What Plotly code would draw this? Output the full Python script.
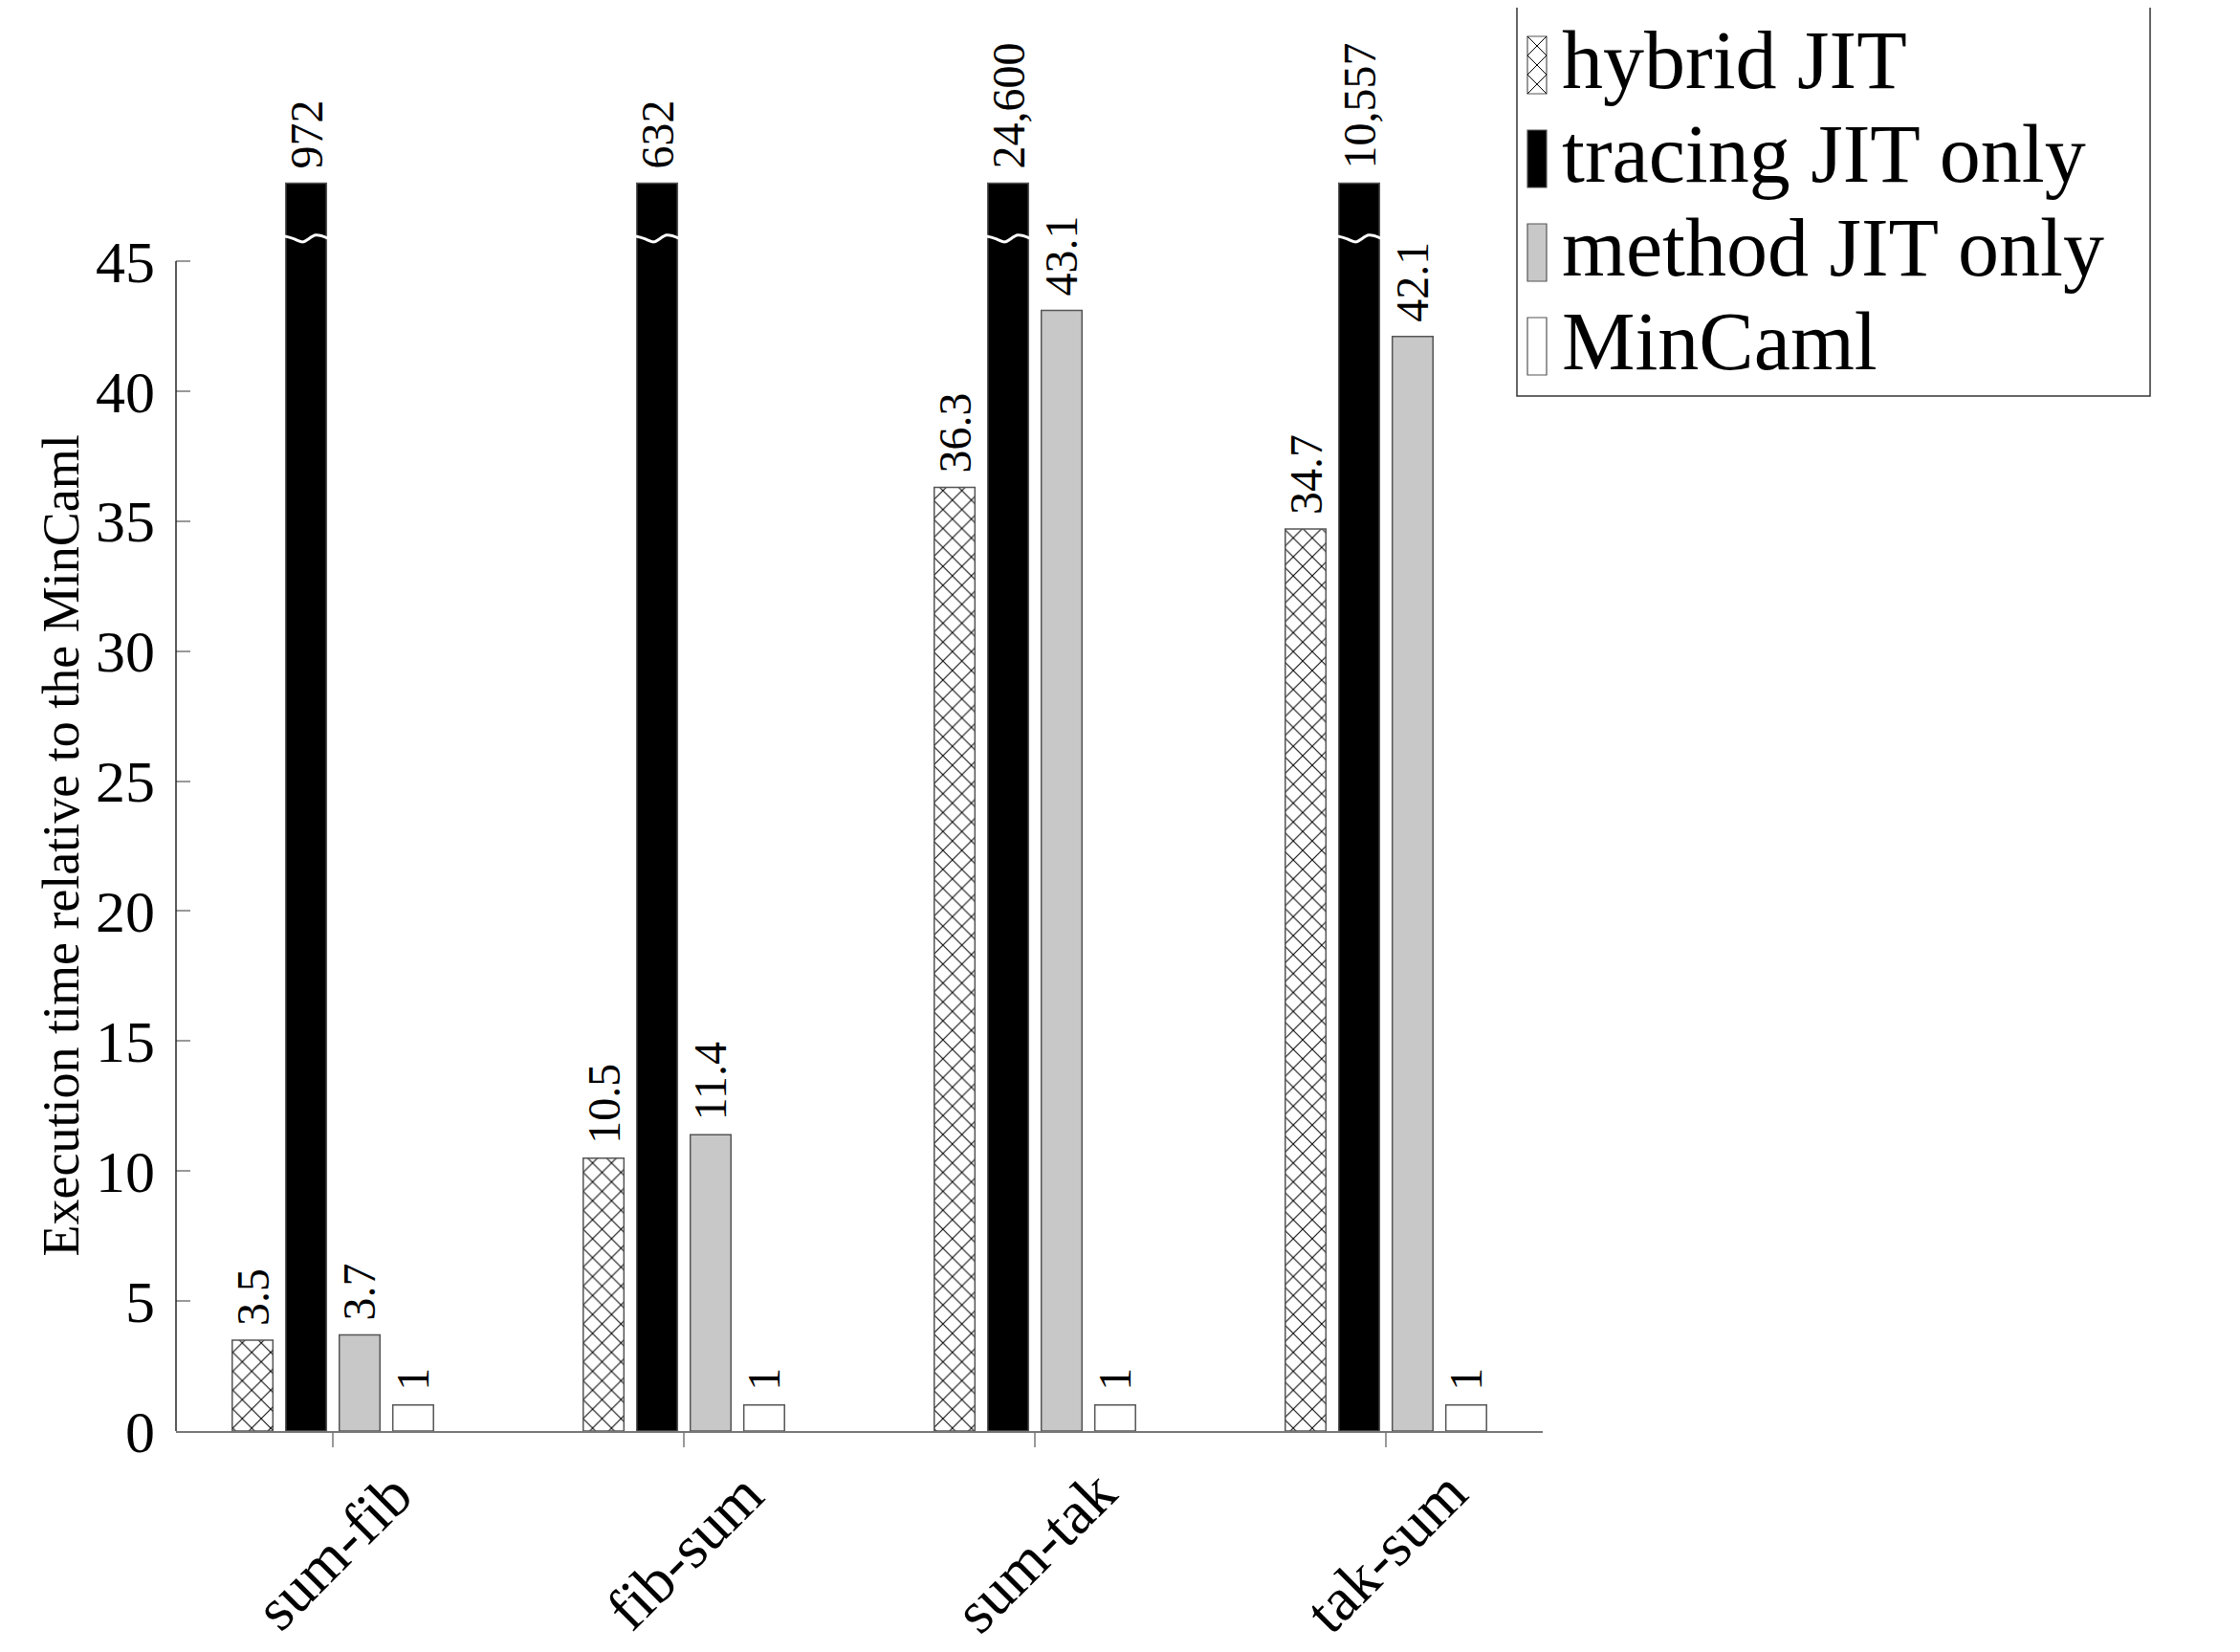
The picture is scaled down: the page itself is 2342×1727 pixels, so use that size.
import plotly.graph_objects as go

# ---------------- data ----------------
CATEGORIES = ["sum-fib", "fib-sum", "sum-tak", "tak-sum"]
SERIES = ["hybrid JIT", "tracing JIT only", "method JIT only", "MinCaml"]
HYBRID = [3.5, 10.5, 36.3, 34.7]
TRACING = [972, 632, 24600, 10557]
METHOD = [3.7, 11.4, 43.1, 42.1]
MINCAML = [1, 1, 1, 1]
Y_TICKS = [0, 5, 10, 15, 20, 25, 30, 35, 40, 45]
Y_TITLE = "Execution time relative to the MinCaml"

# ---------------- display settings ----------------
FONT = "Liberation Serif"
# the page body adds an 8 px margin, so the figure is 16 px smaller than the window
W, H = 2326, 1711
ML, MR, MT, MB = 176, 721, 0, 223
PLOT_W = W - ML - MR
PLOT_H = H - MT - MB
X_RANGE = [-0.4469, 3.4469]
Y_RANGE = [0, 54.75]
CAP = 48          # bars taller than this are drawn broken at this height
BREAK_AT = 45.9   # where the white wavy break mark sits
BARGAP = 0.39
BARGROUPGAP = 0.24
OUTLINE = "#555555"


def fmt(v):
    if float(v).is_integer():
        s = f"{int(v):,}"
    else:
        s = f"{v:g}"
    return "\u00a0" + s   # small gap between bar top and its label


def px(xp):   # figure pixel -> paper x
    return (xp - ML) / PLOT_W


def py(yp):   # figure pixel (from top) -> paper y
    return 1 - (yp - MT) / PLOT_H


fills = ["white", "black", "#c8c8c8", "white"]
hatched = [True, False, False, False]
values = [HYBRID, TRACING, METHOD, MINCAML]

fig = go.Figure()
xs = list(range(len(CATEGORIES)))
for name, vals, fill, hat in zip(SERIES, values, fills, hatched):
    marker = dict(color=fill, line=dict(color=OUTLINE, width=1.5))
    if hat:
        marker["pattern"] = dict(shape="x", fgcolor="black", bgcolor="white",
                                 fgopacity=1, size=14, solidity=0.14)
    fig.add_trace(go.Bar(
        name=name,
        x=xs,
        y=[min(v, CAP) for v in vals],
        text=[fmt(v) for v in vals],
        textposition="outside",
        textangle=-90,
        constraintext="none",
        cliponaxis=False,
        textfont=dict(family=FONT, size=48, color="black"),
        marker=marker,
        showlegend=False,
        hoverinfo="skip",
    ))

# wavy white break marks across the broken (tracing) bars
slot = (1 - BARGAP) / len(SERIES)
k = SERIES.index("tracing JIT only")
center_off = -(1 - BARGAP) / 2 + (k + 0.5) * slot
half = slot * (1 - BARGROUPGAP) / 2 + 0.004
wave_t = [0.0, 0.2, 0.42, 0.72, 1.0]
wave_dy = [0.06, -0.03, -0.16, 0.1, -0.02]
wx, wy = [], []
for i, v in enumerate(TRACING):
    if v > CAP:
        for t, d in zip(wave_t, wave_dy):
            wx.append(i + center_off - half + 2 * half * t)
            wy.append(BREAK_AT + d)
        wx.append(None)
        wy.append(None)
fig.add_trace(go.Scatter(x=wx, y=wy, mode="lines", showlegend=False,
                         line=dict(color="white", width=3, shape="spline"),
                         hoverinfo="skip", cliponaxis=False))

# y axis line only up to the last tick
fig.add_shape(type="line", xref="paper", x0=0, x1=0, yref="y",
              y0=Y_TICKS[0], y1=Y_TICKS[-1], line=dict(color="#222222", width=1.5))

# rotated category labels, centred under their ticks
for i, c in enumerate(CATEGORIES):
    fig.add_annotation(x=i, xref="x", y=0, yref="paper", yshift=-126,
                       xanchor="center", yanchor="middle",
                       text=c, textangle=-45, showarrow=False,
                       font=dict(family=FONT, size=64, color="black"))

# y axis title, centred on the drawn axis line
fig.add_annotation(x=0, xref="paper", xshift=-120,
                   y=(Y_TICKS[0] + Y_TICKS[-1]) / 2, yref="y",
                   xanchor="center", yanchor="middle",
                   text=Y_TITLE, textangle=-90, showarrow=False,
                   font=dict(family=FONT, size=54, color="black"))

# ---------------- legend (box, tall swatches, labels) ----------------
LEG_FONT = 86
LEG_LEFT, LEG_RIGHT = 1578, 2240
LEG_FIRST_BASE, LEG_STEP = 84, 98
SW_L, SW_R, SW_H = 1589, 1609, 60
TXT_X = 1624
LEG_BOTTOM = LEG_FIRST_BASE + LEG_STEP * (len(SERIES) - 1) + 28

fig.add_shape(type="rect", xref="paper", yref="paper",
              x0=px(LEG_LEFT), x1=px(LEG_RIGHT), y0=py(LEG_BOTTOM), y1=py(-4),
              fillcolor="white", line=dict(color="#333333", width=1.5), layer="above")
for j, (name, fill, hat) in enumerate(zip(SERIES, fills, hatched)):
    base = LEG_FIRST_BASE + j * LEG_STEP
    top, bot = base + 6 - SW_H, base + 6
    fig.add_shape(type="rect", xref="paper", yref="paper",
                  x0=px(SW_L), x1=px(SW_R), y0=py(bot), y1=py(top),
                  fillcolor=fill, line=dict(color=OUTLINE, width=1.2), layer="above")
    if hat:
        cell = SW_R - SW_L
        segs = []
        yy = top
        while yy < bot - 1:
            y2 = min(yy + cell, bot)
            frac = (y2 - yy) / cell
            segs.append(f"M{px(SW_L)},{py(yy)} L{px(SW_L + cell * frac)},{py(y2)}")
            segs.append(f"M{px(SW_R)},{py(yy)} L{px(SW_R - cell * frac)},{py(y2)}")
            yy = y2
        fig.add_shape(type="path", xref="paper", yref="paper", path=" ".join(segs),
                      line=dict(color="black", width=1), layer="above")
    fig.add_annotation(x=px(TXT_X), xref="paper", y=py(base - 0.34 * LEG_FONT),
                       yref="paper", xanchor="left", yanchor="middle",
                       text=name, showarrow=False, borderpad=0,
                       font=dict(family=FONT, size=LEG_FONT, color="black"))

fig.update_layout(
    width=W, height=H,
    margin=dict(l=ML, r=MR, t=MT, b=MB, autoexpand=False),
    paper_bgcolor="white", plot_bgcolor="white",
    barmode="group", bargap=BARGAP, bargroupgap=BARGROUPGAP,
    font=dict(family=FONT, color="black"),
    showlegend=False,
    xaxis=dict(range=X_RANGE, tickvals=xs, showticklabels=False,
               ticks="outside", ticklen=15, tickcolor="#999999", tickwidth=1.5,
               showline=True, linecolor="#777777", linewidth=1.5,
               showgrid=False, zeroline=False),
    yaxis=dict(range=Y_RANGE, tickvals=Y_TICKS, ticks="inside", ticklen=15,
               tickcolor="#999999", tickwidth=1.5, showline=False,
               showgrid=False, zeroline=False, ticklabelstandoff=21,
               tickfont=dict(family=FONT, size=62, color="black")),
)

fig.write_html("out.html")
